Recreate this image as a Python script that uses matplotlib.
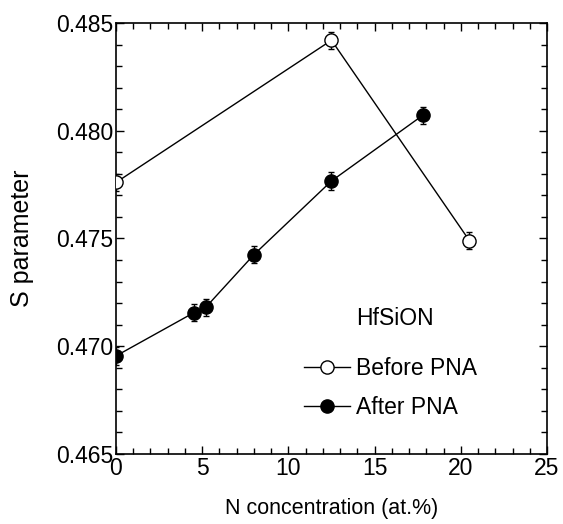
import matplotlib
matplotlib.use('Agg')
import matplotlib.pyplot as plt
from matplotlib.ticker import MultipleLocator

plt.rcParams['font.family'] = ['Liberation Sans', 'DejaVu Sans']

# Before / after post-nitridation anneal
before_x = [0, 12.5, 20.5]
before_s = [0.4776, 0.4842, 0.4749]
before_err = [0.0004, 0.0004, 0.0004]

after_x = [0, 4.5, 5.2, 8.0, 12.5, 17.8]
after_s = [0.46955, 0.47155, 0.4718, 0.47425, 0.47767, 0.48072]
after_err = [0.0004, 0.0004, 0.0004, 0.0004, 0.0004, 0.0004]

fig = plt.figure(figsize=(5.63, 5.24), dpi=100)
ax = fig.add_axes([0.206, 0.1336, 0.7656, 0.8225])

eb1 = ax.errorbar(before_x, before_s, yerr=before_err, color='black', lw=1,
                  marker='o', ms=9.5, mfc='white', mec='black', mew=1,
                  capsize=2.5, elinewidth=1, zorder=3)
eb2 = ax.errorbar(after_x, after_s, yerr=after_err, color='black', lw=1,
                  marker='o', ms=9.5, mfc='black', mec='black', mew=1,
                  capsize=2.5, elinewidth=1, zorder=3)

ax.set_xlim(0, 25)
ax.set_ylim(0.465, 0.485)
ax.xaxis.set_major_locator(MultipleLocator(5))
ax.xaxis.set_minor_locator(MultipleLocator(1))
ax.yaxis.set_major_locator(MultipleLocator(0.005))
ax.yaxis.set_minor_locator(MultipleLocator(0.001))
ax.yaxis.set_major_formatter(plt.FormatStrFormatter('%.3f'))
ax.tick_params(which='both', direction='in', top=True, right=True, width=1)
ax.tick_params(which='major', length=6, labelsize=16.5, pad=2)
ax.tick_params(which='minor', length=4)
for s in ax.spines.values():
    s.set_linewidth(1.2)

ax.set_xlabel('N concentration (at.%)', fontsize=15.5, labelpad=13)
ax.set_ylabel('S parameter', fontsize=18, labelpad=16)

ax.text(0.557, 0.3155, 'HfSiON', transform=ax.transAxes, fontsize=16.5,
        va='center', ha='left')
ax.legend([eb1[0], eb2[0]], ['Before PNA', 'After PNA'],
          loc='upper left', bbox_to_anchor=(0.436, 0.226), frameon=False,
          fontsize=16.5, handlelength=2, handletextpad=0.26,
          labelspacing=0.7, borderpad=0, borderaxespad=0)

fig.savefig('out.png', dpi=100)
